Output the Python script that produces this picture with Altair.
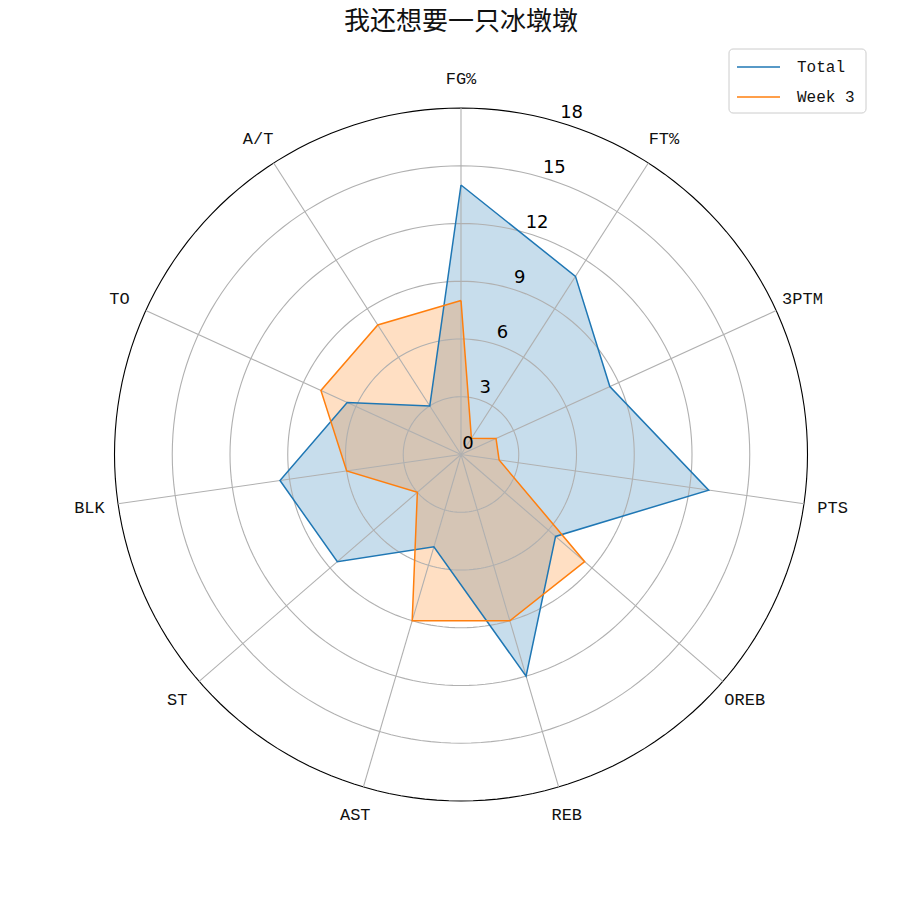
import altair as alt
import pandas as pd

# ---- data ----
categories = ["FG%", "FT%", "3PTM", "PTS", "OREB", "REB", "AST", "ST", "BLK", "TO", "A/T"]
total = [14, 11, 8.5, 13, 6.5, 12, 5, 8.5, 9.5, 6.5, 3]
week3 = [8, 1, 2, 2, 8.5, 9, 9, 3, 6, 8, 8]
series_names = ["Total", "Week 3"]
ring_values = [3, 6, 9, 12, 15, 18]
tick_values = [0, 3, 6, 9, 12, 15, 18]
title_text = "我还想要一只冰墩墩"

N = len(categories)
rows = []
for name, vals in zip(series_names, [total, week3]):
    for i in range(N + 1):
        rows.append({"series": name, "idx": i, "value": vals[i % N]})
poly = pd.DataFrame(rows)
cats = pd.DataFrame({"cat": categories, "idx": list(range(N))})
rings = pd.DataFrame({"r": ring_values})
ticks = pd.DataFrame({"t": tick_values, "lab": [str(v) for v in tick_values]})

W = 884
K = 19.25  # px per unit
cx, cy = 453, 446.5
xdom = [-cx / K, (W - cx) / K]
ydom = [-(W - cy) / K, cy / K]
xs = alt.Scale(domain=xdom, nice=False, zero=False)
ys = alt.Scale(domain=ydom, nice=False, zero=False)

colors = ["#1f77b4", "#ff7f0e"]
TWO_PI_N = f"(2*PI/{N})"

def X(f):
    return alt.X(f"{f}:Q", scale=xs, axis=None)

def Y(f):
    return alt.Y(f"{f}:Q", scale=ys, axis=None)

base_poly = alt.Chart(poly).transform_calculate(
    ang=f"datum.idx*{TWO_PI_N}",
).transform_calculate(
    px="datum.value*sin(datum.ang)",
    py="datum.value*cos(datum.ang)",
)

def fill_layer(name, col):
    return base_poly.transform_filter(alt.datum.series == name).mark_line(
        fill=col, fillOpacity=0.25, strokeOpacity=0
    ).encode(x=X("px"), y=Y("py"), order="idx:Q")

def line_layer(name, col):
    return base_poly.transform_filter(alt.datum.series == name).mark_line(
        stroke=col, strokeWidth=1.5
    ).encode(x=X("px"), y=Y("py"), order="idx:Q")

fills = [fill_layer(n, c) for n, c in zip(series_names, colors)]
lines = [line_layer(n, c) for n, c in zip(series_names, colors)]

grid_rings = alt.Chart(rings).transform_calculate(
    a="sequence(0, 361, 2)"
).transform_flatten(["a"]).transform_calculate(
    px="datum.r*sin(datum.a*PI/180)",
    py="datum.r*cos(datum.a*PI/180)",
).mark_line(strokeWidth=1.1).encode(
    x=X("px"), y=Y("py"),
    detail="r:N",
    order="a:Q",
    stroke=alt.condition(alt.datum.r == 18, alt.value("black"), alt.value("#b0b0b0")),
)

spokes = alt.Chart(cats).transform_calculate(
    ang=f"datum.idx*{TWO_PI_N}",
).transform_calculate(
    zero="0",
    ex="18*sin(datum.ang)",
    ey="18*cos(datum.ang)",
).mark_rule(color="#b0b0b0", strokeWidth=1.1).encode(
    x=X("zero"), y=Y("zero"), x2="ex:Q", y2="ey:Q"
)

cat_labels = alt.Chart(cats).transform_calculate(
    ang=f"datum.idx*{TWO_PI_N}",
).transform_calculate(
    px="19.5*sin(datum.ang)",
    py="19.5*cos(datum.ang)",
).mark_text(font="Liberation Mono", fontSize=17, color="#111111", align="center", baseline="middle").encode(
    x=X("px"), y=Y("py"), text="cat:N"
)

tick_labels = alt.Chart(ticks).transform_calculate(
    px="datum.t*sin(17.4*PI/180)",
    py="datum.t*cos(17.4*PI/180)",
).mark_text(font="DejaVu Sans", fontSize=18, color="black", align="center", baseline="middle", dx=7, dy=-11).encode(
    x=X("px"), y=Y("py"), text="lab:N"
)

title = alt.Chart(pd.DataFrame({"t": [title_text]})).mark_text(
    font="Noto Sans CJK SC", fontSize=26, color="#111111", align="center", baseline="top"
).encode(x=alt.value(453), y=alt.value(1), text="t:N")

# ---- manual legend (matplotlib style) ----
one = pd.DataFrame({"k": [0]})
legend_box = alt.Chart(one).mark_rect(
    fill="white", stroke="#cccccc", strokeWidth=1, cornerRadius=4
).encode(x=alt.value(721), x2=alt.value(858), y=alt.value(41), y2=alt.value(105))

legend_layers = [legend_box]
for i, (name, col) in enumerate(zip(series_names, colors)):
    ypos = 59 + 30 * i
    d = pd.DataFrame({"name": [name]})
    legend_layers.append(
        alt.Chart(d).mark_rule(color=col, strokeWidth=1.5).encode(
            x=alt.value(729), x2=alt.value(772), y=alt.value(ypos)
        )
    )
    legend_layers.append(
        alt.Chart(d).mark_text(
            font="Liberation Mono", fontSize=16, color="#111111", align="left", baseline="middle"
        ).encode(x=alt.value(789), y=alt.value(ypos), text="name:N")
    )

chart = alt.layer(
    *fills, grid_rings, spokes, *lines, cat_labels, tick_labels, title, *legend_layers
).properties(
    width=W, height=W, autosize=alt.AutoSizeParams(type="none"), padding=0
).configure_view(stroke=None)

chart.save("out.html", embed_options={"renderer": "svg", "actions": False})
